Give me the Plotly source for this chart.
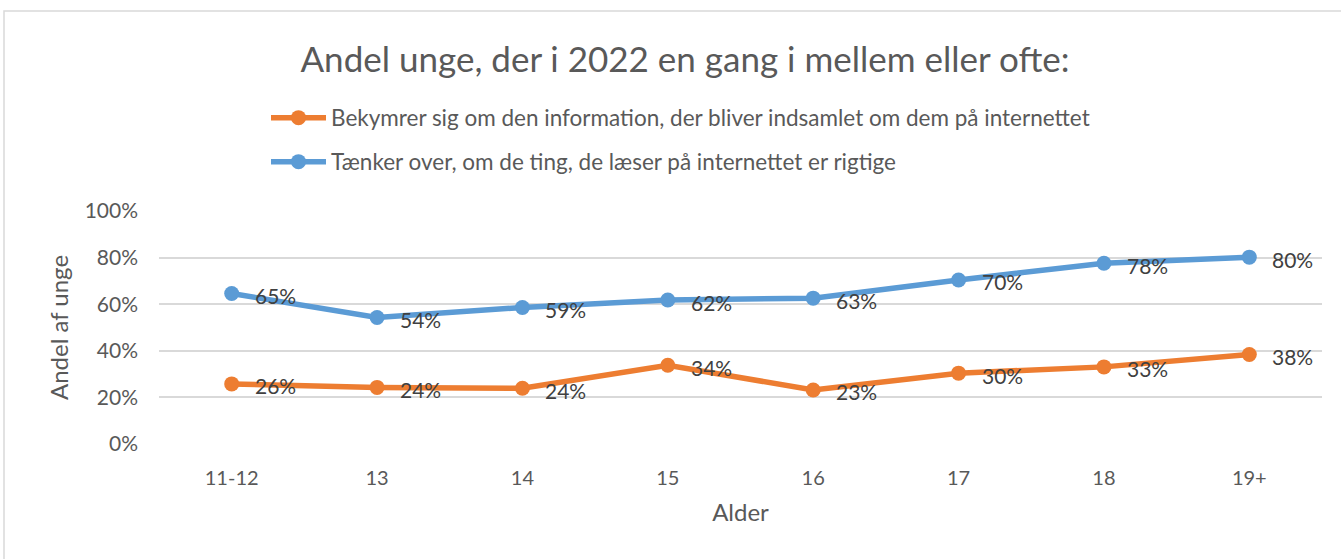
import plotly.graph_objects as go

categories = ["11-12", "13", "14", "15", "16", "17", "18", "19+"]
bekymrer = [25.8, 24.3, 23.9, 33.8, 23.2, 30.4, 33.1, 38.4]
taenker = [64.6, 54.3, 58.6, 61.8, 62.6, 70.4, 77.6, 80.2]
ytick_vals = [0, 20, 40, 60, 80, 100]
ytick_text = ["0%", "20%", "40%", "60%", "80%", "100%"]

name_b = "Bekymrer sig om den information, der bliver indsamlet om dem på internettet"
name_t = "Tænker over, om de ting, de læser på internettet er rigtige"

FONT = "Lato"
GRAY = "#595959"

# plot area pixels
L, R, T, B = 159, 19, 211, 115
W, H = 1341, 559
pw, ph = W - L - R, H - T - B

def px_x(px):
    return (px - L) / pw

def px_y(py):
    return (H - B - py) / ph

fig = go.Figure()
annotations = []
for vals, name, color, leg in [(bekymrer, name_b, "#ED7D31", "legend"),
                               (taenker, name_t, "#5B9BD5", "legend2")]:
    fig.add_trace(go.Scatter(
        x=categories, y=vals, name=name, mode="lines+markers",
        line=dict(color=color, width=5.5),
        marker=dict(color=color, size=15),
        legend=leg, showlegend=True,
        cliponaxis=False,
    ))
    for i, v in enumerate(vals):
        annotations.append(dict(
            x=i, y=v, xref="x", yref="y", text=f"{round(v)}%",
            showarrow=False, xanchor="left", yanchor="middle",
            xshift=21, yshift=-2,
            font=dict(family=FONT, size=21, color="#404040"),
        ))

legend_common = dict(xanchor="left", yanchor="middle",
                     font=dict(family=FONT, size=22.5, color=GRAY),
                     bgcolor="rgba(0,0,0,0)", itemwidth=55)

fig.update_layout(
    width=W, height=H,
    showlegend=True,
    margin=dict(l=L, r=R, t=T, b=B, autoexpand=False),
    paper_bgcolor="white", plot_bgcolor="white",
    title=dict(text="Andel unge, der i 2022 en gang i mellem eller ofte:",
               x=685 / W, xanchor="center", y=1 - 60 / H, yanchor="middle",
               font=dict(family=FONT, size=35, color=GRAY)),
    legend=dict(x=px_x(266), y=px_y(118), **legend_common),
    legend2=dict(x=px_x(266), y=px_y(162), **legend_common),
    xaxis=dict(type="category", range=[-0.5, 7.5], showgrid=False,
               showline=False, ticks="", zeroline=False,
               ticklabelstandoff=20,
               tickfont=dict(family=FONT, size=20, color=GRAY),
               title=dict(text="Alder", font=dict(family=FONT, size=24, color=GRAY),
                          standoff=16)),
    yaxis=dict(range=[0, 100], tickvals=ytick_vals, ticktext=ytick_text,
               showgrid=True, gridcolor="#D9D9D9", gridwidth=1.5,
               zeroline=False, showline=False, ticks="",
               ticklabelstandoff=20,
               tickfont=dict(family=FONT, size=21, color=GRAY),
               title=dict(text="Andel af unge", font=dict(family=FONT, size=24, color=GRAY),
                          standoff=9)),
    annotations=annotations,
    shapes=[dict(type="rect", xref="paper", yref="paper",
                 x0=px_x(4), x1=px_x(1350), y0=px_y(570), y1=px_y(11),
                 line=dict(color="#D9D9D9", width=1.5), layer="below")],
)

fig.write_html("out.html", config={"displayModeBar": False},
               post_script="document.body.style.margin='0';document.body.style.overflow='hidden';")
